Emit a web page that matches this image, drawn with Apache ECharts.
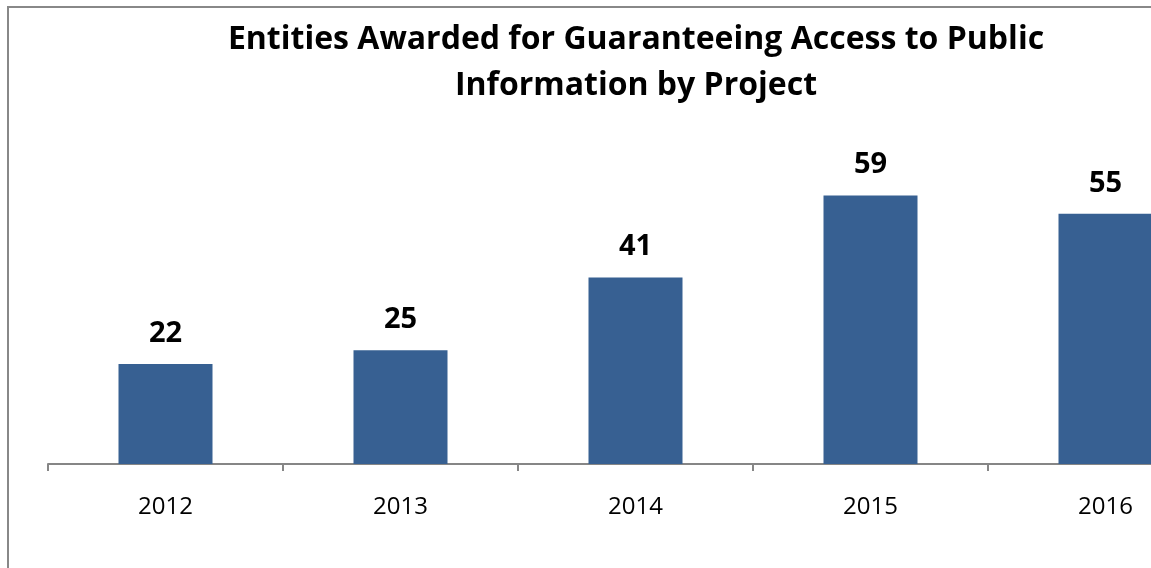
<!DOCTYPE html>
<html>
<head>
<meta charset="utf-8">
<script src="https://cdn.jsdelivr.net/npm/echarts@6/dist/echarts.min.js"></script>
<style>
  html, body { margin: 0; padding: 0; background: #fff; }
  #main { width: 1151px; height: 568px; }
</style>
</head>
<body>
<div id="main"></div>
<script>
// 数据
var years = ['2012', '2013', '2014', '2015', '2016'];
var entities = [22, 25, 41, 59, 55];

var myChart = echarts.init(document.getElementById('main'));

var option = {
  backgroundColor: '#fff',
  animation: false,
  //大标题
  title: {
    text: 'Entities Awarded for Guaranteeing Access to Public\nInformation by Project',
    left: 631,
    top: 12,
    textAlign: 'center',
    textStyle: {
      fontFamily: 'Open Sans',
      fontWeight: 'bold',
      fontSize: 32,
      lineHeight: 46,
      color: '#000'
    }
  },
  //外框
  graphic: [{
    type: 'rect',
    shape: { x: 8, y: 7, width: 1300, height: 700 },
    style: { fill: 'none', stroke: '#888', lineWidth: 2 },
    silent: true,
    z: 100
  }],
  // 图表区比画布宽，右边被裁掉
  grid: {
    left: 48,
    width: 1175,
    top: 145.5,
    bottom: 104,
    outerBoundsMode: 'none',
    containLabel: false
  },
  xAxis: {
    type: 'category',
    data: years,
    axisLine: { lineStyle: { color: '#868686', width: 2 } },
    axisTick: { show: true, length: 7, lineStyle: { color: '#868686', width: 2 } },
    axisLabel: {
      color: '#000',
      fontFamily: 'Open Sans',
      fontSize: 24,
      margin: 31
    }
  },
  yAxis: {
    type: 'value',
    min: 0,
    max: 70,
    show: false,
    splitLine: { show: false }
  },
  series: [{
    name: 'Entities',
    type: 'bar',
    data: entities,
    barWidth: 94,
    itemStyle: { color: '#376092' },
    label: {
      show: true,
      position: 'top',
      distance: 16,
      color: '#000',
      fontFamily: 'Open Sans',
      fontWeight: 'bold',
      fontSize: 29
    }
  }]
};

myChart.setOption(option);
</script>
</body>
</html>
